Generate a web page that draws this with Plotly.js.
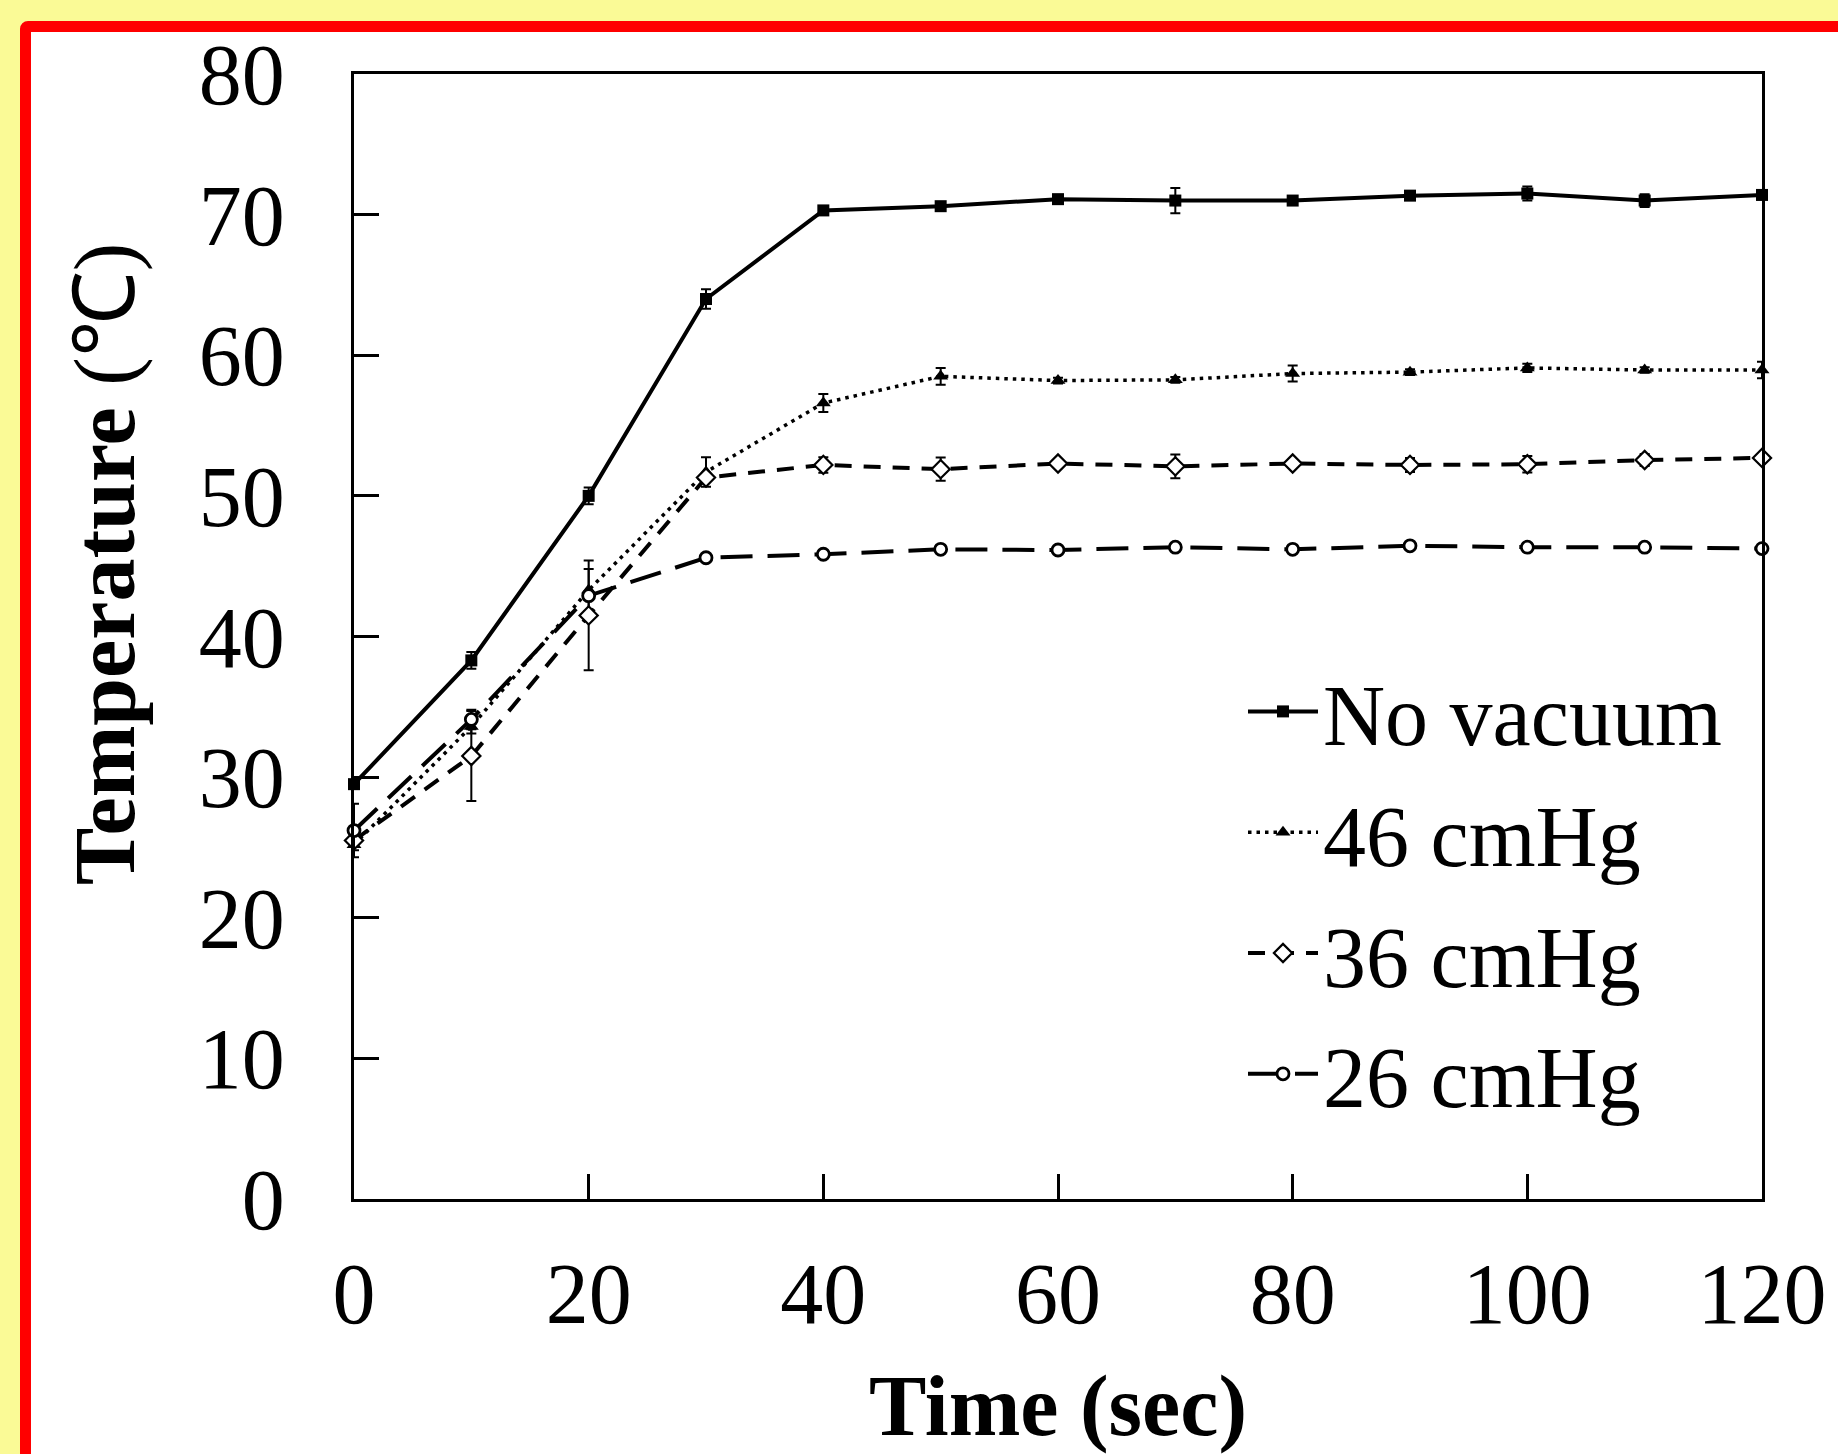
<!DOCTYPE html>
<html>
<head>
<meta charset="utf-8">
<script src="https://cdn.plot.ly/plotly-3.0.1.min.js"></script>
<style>
  html, body { margin: 0; padding: 0; width: 1838px; height: 1454px; overflow: hidden; background: #FAFA96; }
  #frame { position: absolute; left: 20px; top: 21px; width: 1830px; height: 1500px; box-sizing: border-box;
           border: 11px solid #FF0000; border-radius: 8px; background: #FFFFFF; }
  #chart { position: absolute; left: 0; top: 0; width: 1838px; height: 1454px; }
</style>
</head>
<body>
<div id="frame"></div>
<div id="chart"></div>
<script>
// ---- data ----
const timeSec = [0, 10, 20, 30, 40, 50, 60, 70, 80, 90, 100, 110, 120];

const noVacuum    = [29.5, 38.3, 50.0, 64.0, 70.3, 70.6, 71.1, 71.0, 71.0, 71.35, 71.5, 71.0, 71.4];
const noVacuumErr = [0.3, 0.6, 0.6, 0.7, 0.3, 0.3, 0.3, 0.9, 0.3, 0.3, 0.5, 0.45, 0.3];

const hg46    = [25.2, 33.6, 43.3, 51.7, 56.6, 58.5, 58.2, 58.25, 58.7, 58.8, 59.1, 58.95, 58.95];
const hg46Err = [0.4, 0.5, 1.5, 1.05, 0.64, 0.59, 0.2, 0.2, 0.57, 0.2, 0.3, 0.2, 0.59];

const hg36    = [25.5, 31.5, 41.5, 51.3, 52.2, 51.9, 52.3, 52.1, 52.3, 52.2, 52.25, 52.55, 52.7];
const hg36Err = [0.3, 3.2, 3.9, 0.3, 0.55, 0.83, 0.2, 0.85, 0.2, 0.5, 0.59, 0.42, 0.2];

const hg26    = [26.2, 34.1, 42.9, 45.6, 45.85, 46.2, 46.15, 46.35, 46.2, 46.45, 46.35, 46.35, 46.25];
const hg26Err = [1.9, 0.7, 0.3, 0.2, 0.2, 0.2, 0.2, 0.2, 0.2, 0.2, 0.2, 0.2, 0.2];

const seriesNames = ['No vacuum', '46 cmHg', '36 cmHg', '26 cmHg'];
const xTickVals = [0, 20, 40, 60, 80, 100, 120];
const yTickVals = [0, 10, 20, 30, 40, 50, 60, 70, 80];
const xTitle = '<b>Time (sec)</b>';
const yTitle = '<b>Temperature</b> (℃)';

// ---- chart ----
const FONT = 'Liberation Serif, Times New Roman, serif';
function errBar(arr) {
  return { type: 'data', array: arr, visible: true, color: '#000', thickness: 2, width: 5 };
}

const traces = [
  { x: timeSec, y: noVacuum, name: seriesNames[0], legendgroup: 'a', type: 'scatter', mode: 'lines+markers',
    line: { color: '#000', width: 4 },
    marker: { symbol: 'square', size: 12, color: '#000' },
    error_y: errBar(noVacuumErr), cliponaxis: false },
  { x: timeSec, y: hg46, name: seriesNames[1], legendgroup: 'b', type: 'scatter', mode: 'lines+markers',
    line: { color: '#000', width: 3.5, dash: '3.5px,5px' },
    marker: { symbol: 'triangle-up', size: 13, color: '#000' },
    error_y: errBar(hg46Err), cliponaxis: false },
  { x: timeSec, y: hg36, name: seriesNames[2], legendgroup: 'c', type: 'scatter', mode: 'lines+markers',
    line: { color: '#000', width: 4, dash: '17px,12px' },
    marker: { symbol: 'diamond', size: 14, color: '#fff', line: { color: '#000', width: 2.2 } },
    error_y: errBar(hg36Err), cliponaxis: false },
  { x: timeSec, y: hg26, name: seriesNames[3], legendgroup: 'd', type: 'scatter', mode: 'lines+markers',
    line: { color: '#000', width: 4, dash: '32px,15px' },
    marker: { symbol: 'circle', size: 12, color: '#fff', line: { color: '#000', width: 2.8 } },
    error_y: errBar(hg26Err), cliponaxis: false }
];

const layout = {
  width: 1838, height: 1454,
  margin: { l: 354, r: 76, t: 74, b: 255, pad: 0 },
  paper_bgcolor: 'rgba(0,0,0,0)',
  plot_bgcolor: '#FFFFFF',
  font: { family: FONT, size: 86, color: '#000' },
  showlegend: true,
  legend: {
    x: (1243 - 354) / 1408, y: (1199 - 649) / 1125, xanchor: 'left', yanchor: 'top',
    bgcolor: 'rgba(0,0,0,0)', borderwidth: 0,
    font: { family: FONT, size: 86, color: '#000' },
    itemwidth: 70, tracegroupgap: 6, traceorder: 'grouped'
  },
  xaxis: {
    range: [0, 120], tickvals: xTickVals, ticktext: xTickVals.map(String),
    ticks: 'inside', ticklen: 25, tickwidth: 3, tickcolor: '#000',
    showline: true, linewidth: 3, linecolor: '#000', mirror: true,
    showgrid: false, zeroline: false, ticklabelstandoff: 18,
    tickfont: { family: FONT, size: 86, color: '#000' },
    title: { text: xTitle, font: { family: FONT, size: 86, color: '#000' }, standoff: 42 }
  },
  yaxis: {
    range: [0, 80], tickvals: yTickVals, ticktext: yTickVals.map(String),
    ticks: 'inside', ticklen: 25, tickwidth: 3, tickcolor: '#000',
    showline: true, linewidth: 3, linecolor: '#000', mirror: true,
    showgrid: false, zeroline: false, ticklabelstandoff: 49,
    tickfont: { family: FONT, size: 86, color: '#000' }
  },
  annotations: [
    { text: yTitle, xref: 'paper', yref: 'paper', x: (105 - 354) / 1408, y: (1199 - 564) / 1125,
      xanchor: 'center', yanchor: 'middle', textangle: -90, showarrow: false,
      font: { family: FONT, size: 86, color: '#000' } }
  ]
};

Plotly.newPlot('chart', traces, layout, { staticPlot: true, displayModeBar: false });
</script>
</body>
</html>
